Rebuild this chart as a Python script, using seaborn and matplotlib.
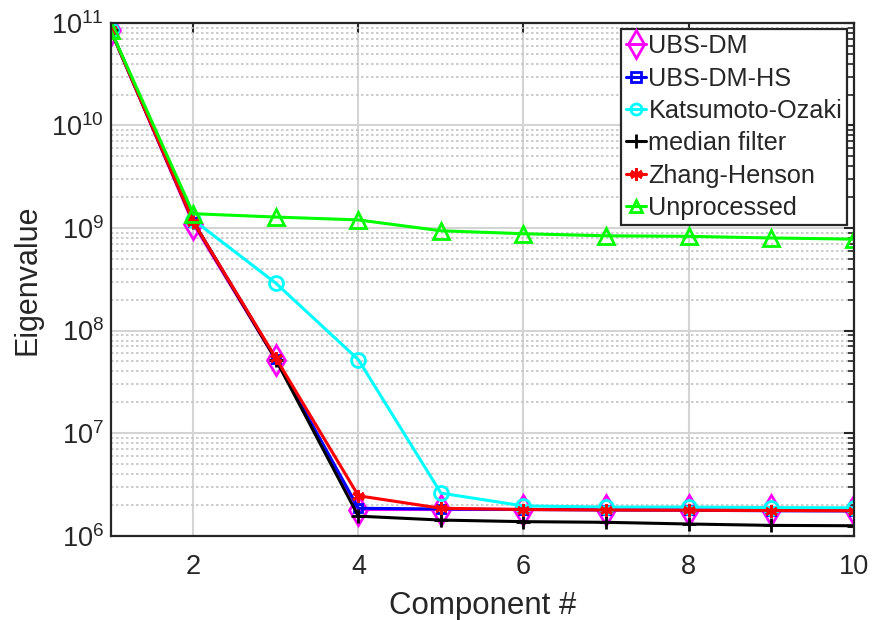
import numpy as np
import pandas as pd
import seaborn as sns
import matplotlib
matplotlib.use("Agg")
import matplotlib.pyplot as plt
from matplotlib.ticker import LogLocator, NullFormatter

components = [1, 2, 3, 4, 5, 6, 7, 8, 9, 10]
ubs_dm = [8.5e10, 1.1e9, 5.2e7, 1.8e6, 1.8e6, 1.8e6, 1.8e6, 1.8e6, 1.8e6, 1.8e6]
ubs_dm_hs = [8.5e10, 1.15e9, 5.3e7, 1.85e6, 1.82e6, 1.8e6, 1.78e6, 1.77e6, 1.75e6, 1.74e6]
katsumoto = [8.5e10, 1.2e9, 2.9e8, 5.2e7, 2.6e6, 1.95e6, 1.9e6, 1.9e6, 1.88e6, 1.87e6]
median_filter = [8.5e10, 1.15e9, 5.2e7, 1.55e6, 1.42e6, 1.37e6, 1.35e6, 1.3e6, 1.26e6, 1.25e6]
zhang_henson = [8.5e10, 1.15e9, 5.4e7, 2.45e6, 1.85e6, 1.8e6, 1.78e6, 1.77e6, 1.76e6, 1.75e6]
unprocessed = [8.5e10, 1.38e9, 1.28e9, 1.2e9, 9.4e8, 8.8e8, 8.4e8, 8.3e8, 8.0e8, 7.8e8]

labels = ["UBS-DM", "UBS-DM-HS", "Katsumoto-Ozaki", "median filter", "Zhang-Henson", "Unprocessed"]
series = [ubs_dm, ubs_dm_hs, katsumoto, median_filter, zhang_henson, unprocessed]

df = pd.DataFrame({
    "Component #": components * len(labels),
    "Eigenvalue": np.concatenate(series),
    "method": np.repeat(labels, len(components)),
})

sns.set_theme(style="white")
plt.rcParams['font.family'] = ['Liberation Sans', 'DejaVu Sans']
plt.rcParams['mathtext.fontset'] = 'custom'
plt.rcParams['mathtext.rm'] = 'Liberation Sans'
plt.rcParams['mathtext.it'] = 'Liberation Sans'

colors = {"UBS-DM": "#ff00ff", "UBS-DM-HS": "#0000ff", "Katsumoto-Ozaki": "#00ffff",
          "median filter": "#000000", "Zhang-Henson": "#ff0000", "Unprocessed": "#00ff00"}
markers = {"UBS-DM": "d", "UBS-DM-HS": "s", "Katsumoto-Ozaki": "o",
           "median filter": "+", "Zhang-Henson": (6, 2, 0), "Unprocessed": "^"}
msizes = {"UBS-DM": 15, "UBS-DM-HS": 6, "Katsumoto-Ozaki": 10,
          "median filter": 10, "Zhang-Henson": 9, "Unprocessed": 11}
leg_msizes = {"UBS-DM": 14, "UBS-DM-HS": 7, "Katsumoto-Ozaki": 8,
              "median filter": 10, "Zhang-Henson": 9, "Unprocessed": 9}

fig = plt.figure(figsize=(8.72, 6.2), dpi=100)
ax = fig.add_axes([0.127, 0.136, 0.852, 0.827])

for lab in labels:
    sub = df[df["method"] == lab]
    sns.lineplot(data=sub, x="Component #", y="Eigenvalue", ax=ax, color=colors[lab],
                 marker=markers[lab], markersize=msizes[lab], mfc='none', mec=colors[lab],
                 mew=2, lw=2.2, label=lab)

ax.set_yscale("log")
ax.set_xlim(1, 10)
ax.set_ylim(1e6, 1e11)
ax.set_xticks([2, 4, 6, 8, 10])
ax.yaxis.set_major_locator(LogLocator(base=10, numticks=10))
ax.yaxis.set_minor_locator(LogLocator(base=10, subs=np.arange(2, 10), numticks=20))
ax.yaxis.set_minor_formatter(NullFormatter())

ax.grid(True, which='major', axis='both', color='#d4d4d4', lw=1.5, ls='-')
ax.grid(True, which='minor', axis='y', color='#c4c4c4', lw=1.2, ls=(0, (1.5, 1.5)))
ax.set_axisbelow(True)

ax.tick_params(which='both', direction='in', top=True, right=True, colors='#262626',
               labelcolor='#262626', labelsize=19.5)
ax.tick_params(which='major', length=7, width=1.5)
ax.tick_params(which='minor', length=4, width=1.2)
ax.tick_params(axis='x', which='major', pad=13)
ax.tick_params(axis='y', which='major', pad=5)
for s in ax.spines.values():
    s.set_color('#262626')
    s.set_linewidth(1.6)

ax.set_xlabel("Component #", fontsize=22.5, color='#262626', labelpad=8)
ax.set_ylabel("Eigenvalue", fontsize=22, color='#262626', labelpad=6)

leg = ax.legend(loc='upper right', fontsize=18.2, frameon=True, fancybox=False,
                edgecolor='#262626', framealpha=1, handlelength=0.8, handletextpad=0.1,
                borderpad=0.2, labelspacing=0.33, borderaxespad=0.25)
leg.get_frame().set_linewidth(1.6)
for h, lab in zip(leg.legend_handles, labels):
    h.set_markersize(leg_msizes[lab])

fig.savefig("out.png", dpi=100)
